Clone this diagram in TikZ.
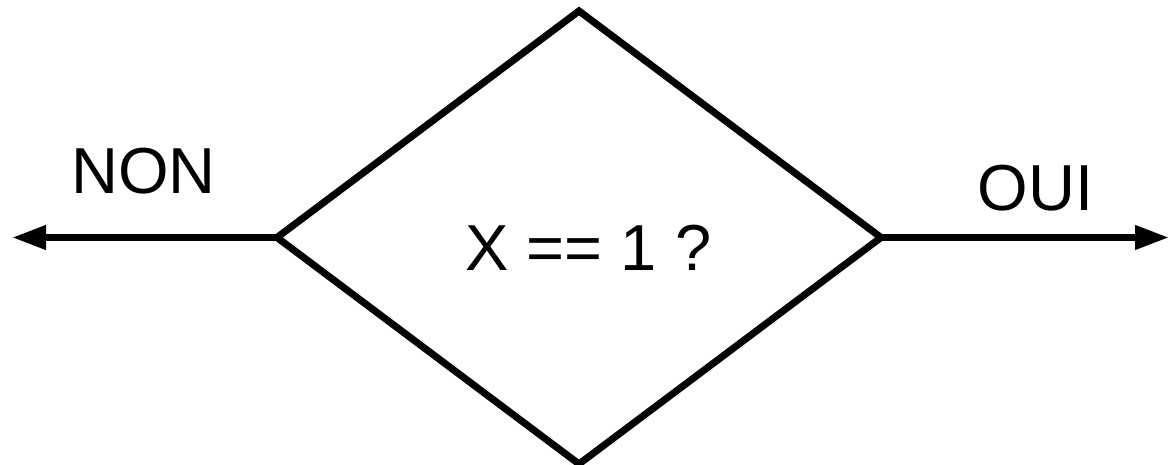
\documentclass[tikz,border=0pt]{standalone}
\usepackage{fontspec}
\setmainfont{Liberation Sans}
\usetikzlibrary{arrows.meta, shapes.geometric}

\begin{document}
\begin{tikzpicture}[
    test/.style={draw, diamond, line width=4pt, minimum width=12.08cm, minimum height=9.06cm, inner sep=0pt, outer sep=0pt},
    txt/.style={font=\fontsize{37}{44}\selectfont, inner sep=0pt},
    arrow/.style={-{Triangle[length=0.68cm, width=0.46cm]}, line width=4pt},
]
\useasboundingbox (0, 0) rectangle (23.38, -9.30);

\node[test] (cond) at (11.58, -4.75) {};
\node[txt] (question) at (11.77, -4.96) {X == 1 ?};

\coordinate (noend) at (0.24, -4.75);
\coordinate (ouiend) at (23.38, -4.75);

\draw[arrow] (cond.west) -- (noend);
\draw[arrow] (cond.east) -- (ouiend);

\node[txt] (non) at (2.87, -3.42) {NON};
\node[txt] (oui) at (20.71, -3.76) {OUI};

\end{tikzpicture}
\end{document}
